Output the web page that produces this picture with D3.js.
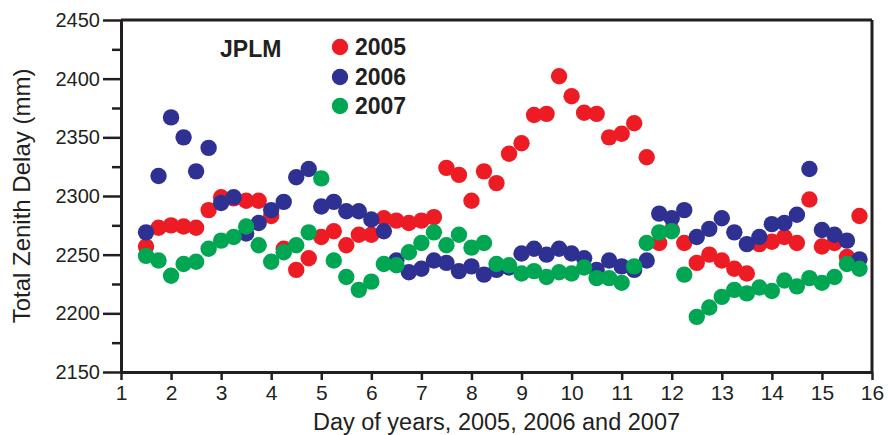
<!DOCTYPE html>
<html>
<head>
<meta charset="utf-8">
<script src="https://cdn.jsdelivr.net/npm/d3@7"></script>
<style>
  body { margin: 0; background: #fff; }
  svg { display: block; font-family: "Liberation Sans", Arial, sans-serif; }
</style>
</head>
<body>
<svg id="chart" width="888" height="435"></svg>
<script>
// -- Data --
const days = [1.5, 1.75, 2, 2.25, 2.5, 2.75, 3, 3.25, 3.5, 3.75,
    4, 4.25, 4.5, 4.75, 5, 5.25, 5.5, 5.75, 6, 6.25,
    6.5, 6.75, 7, 7.25, 7.5, 7.75, 8, 8.25, 8.5, 8.75,
    9, 9.25, 9.5, 9.75, 10, 10.25, 10.5, 10.75, 11, 11.25,
    11.5, 11.75, 12, 12.25, 12.5, 12.75, 13, 13.25, 13.5, 13.75,
    14, 14.25, 14.5, 14.75, 15, 15.25, 15.5, 15.75];

const zd2005 = [2257, 2273, 2275, 2274, 2273, 2288, 2299, 2298, 2296, 2296,
    2283, 2255, 2237, 2247, 2265, 2270, 2258, 2267, 2267, 2281,
    2279, 2277, 2279, 2282, 2324, 2318, 2296, 2321, 2311, 2336,
    2345, 2369, 2370, 2402, 2385, 2371, 2370, 2350, 2353, 2362,
    2333, 2260, 2271, 2260, 2243, 2250, 2245, 2238, 2234, 2259,
    2261, 2265, 2260, 2297, 2257, 2260, 2248, 2283];

const zd2006 = [2269, 2317, 2367, 2350, 2321, 2341, 2294, 2299, 2268, 2277,
    2288, 2295, 2316, 2323, 2291, 2295, 2287, 2287, 2280, 2270,
    2245, 2235, 2238, 2245, 2243, 2236, 2240, 2233, 2237, 2239,
    2251, 2255, 2250, 2255, 2251, 2247, 2237, 2245, 2240, 2237,
    2245, 2285, 2281, 2288, 2265, 2272, 2281, 2269, 2259, 2265,
    2276, 2277, 2284, 2323, 2271, 2267, 2262, 2246];

const zd2007 = [2249, 2245, 2232, 2242, 2244, 2255, 2262, 2265, 2274, 2258,
    2244, 2252, 2258, 2269, 2315, 2245, 2231, 2220, 2227, 2242,
    2241, 2252, 2260, 2269, 2258, 2267, 2256, 2260, 2242, 2241,
    2234, 2236, 2231, 2235, 2234, 2239, 2230, 2230, 2226, 2240,
    2260, 2269, 2270, 2233, 2197, 2205, 2214, 2220, 2217, 2222,
    2219, 2228, 2223, 2230, 2226, 2231, 2242, 2238];

const yMajorTicks = [2150, 2200, 2250, 2300, 2350, 2400, 2450];
const yMinorTicks = [2175, 2225, 2275, 2325, 2375, 2425];
const xTicks = [1, 2, 3, 4, 5, 6, 7, 8, 9, 10, 11, 12, 13, 14, 15, 16];

const seriesNames = ["2005", "2006", "2007"];
const seriesColors = ["#ed1c24", "#2e3192", "#00a651"];
const seriesValues = [zd2005, zd2006, zd2007];

// -- Setup --
const svg = d3.select("#chart");
const ink = "#231f20";
const dotRadius = 8.2;

const x = d3.scaleLinear().domain([1, 16]).range([121, 872]);
const y = d3.scaleLinear().domain([2150, 2450]).range([372, 20]);

// Frame: top and right lines
svg.append("line")
    .attr("x1", x(1)).attr("x2", x(16))
    .attr("y1", y(2450)).attr("y2", y(2450))
    .attr("stroke", ink).attr("stroke-width", 3);
svg.append("line")
    .attr("x1", x(16)).attr("x2", x(16))
    .attr("y1", y(2450)).attr("y2", y(2150))
    .attr("stroke", ink).attr("stroke-width", 3);

// -- Points (2005 first, 2007 on top) --
seriesValues.forEach((vals, s) => {
    svg.append("g")
        .selectAll("circle")
        .data(vals)
        .join("circle")
        .attr("cx", (d, i) => x(days[i]))
        .attr("cy", d => y(d))
        .attr("r", dotRadius)
        .attr("fill", seriesColors[s]);
});

// -- Axes --
const yMinor = svg.append("g")
    .attr("transform", `translate(${x(1)},0)`)
    .call(d3.axisLeft(y).tickValues(yMinorTicks).tickSize(9).tickSizeOuter(0).tickFormat(""));
yMinor.select(".domain").remove();

const yAxis = svg.append("g")
    .attr("transform", `translate(${x(1)},0)`)
    .call(d3.axisLeft(y).tickValues(yMajorTicks).tickSize(18).tickSizeOuter(0)
        .tickPadding(3).tickFormat(d3.format("d")));

const xAxis = svg.append("g")
    .attr("transform", `translate(0,${y(2150)})`)
    .call(d3.axisBottom(x).tickValues(xTicks).tickSize(8).tickSizeOuter(0).tickPadding(5));

[yMinor, yAxis, xAxis].forEach(g => {
    g.selectAll(".tick line").attr("stroke", ink).attr("stroke-width", 2.5);
    g.selectAll(".domain").attr("stroke", ink).attr("stroke-width", 3);
});

yAxis.selectAll(".tick text")
    .attr("fill", ink)
    .style("font-size", "20px");

xAxis.selectAll(".tick text")
    .attr("fill", ink)
    .style("font-size", "21px");

// Axis titles
svg.append("text")
    .attr("transform", `translate(30,${(y(2150) + y(2450)) / 2}) rotate(-90)`)
    .attr("text-anchor", "middle")
    .attr("fill", ink)
    .style("font-size", "24px")
    .text("Total Zenith Delay (mm)");

svg.append("text")
    .attr("x", (x(1) + x(16)) / 2)
    .attr("y", 430)
    .attr("text-anchor", "middle")
    .attr("fill", ink)
    .style("font-size", "23.5px")
    .text("Day of years, 2005, 2006 and 2007");

// -- Legend --
svg.append("text")
    .attr("x", 220).attr("y", 57)
    .attr("fill", ink)
    .style("font-size", "23px")
    .style("font-weight", "bold")
    .text("JPLM");

const legendY = [47, 77, 106];
const legend = svg.append("g")
    .selectAll("g")
    .data(seriesNames)
    .join("g")
    .attr("transform", (d, i) => `translate(340,${legendY[i]})`);

legend.append("circle")
    .attr("r", dotRadius)
    .attr("fill", (d, i) => seriesColors[i]);

legend.append("text")
    .attr("x", 15).attr("y", 8)
    .attr("fill", ink)
    .style("font-size", "23px")
    .style("font-weight", "bold")
    .text(d => d);
</script>
</body>
</html>
